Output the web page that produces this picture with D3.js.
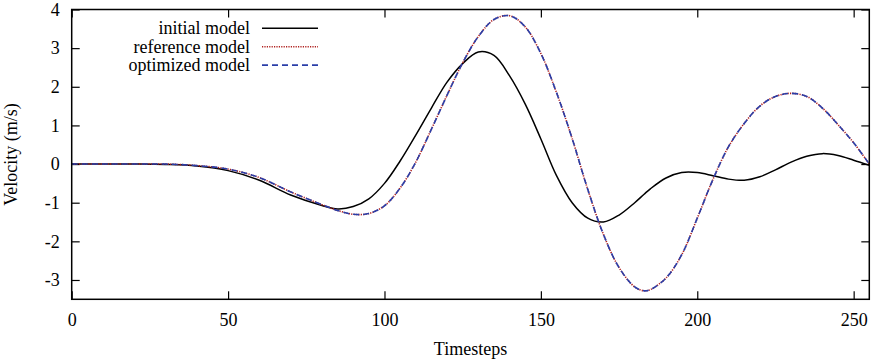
<!DOCTYPE html>
<html>
<head>
<meta charset="utf-8">
<script src="https://cdn.jsdelivr.net/npm/d3@7"></script>
<style>
  body { margin: 0; background: #fff; }
  text { font-family: "Liberation Serif", "Times New Roman", serif; font-size: 18px; fill: #000; }
</style>
</head>
<body>
<div id="chart"></div>
<script>
const timesteps = [0, 10, 20, 30, 40, 50, 60, 70, 80, 85, 90, 95, 100, 105, 110, 115, 120, 125, 130, 135,
  140, 145, 150, 155, 160, 165, 170, 175, 180, 183, 185, 190, 195, 200, 205, 210, 215, 220, 225, 230,
  235, 240, 245, 250, 255];

const initialModel = [0, 0, 0, -0.01, -0.05, -0.17, -0.42, -0.80, -1.07, -1.16, -1.10, -0.90, -0.50, 0.08, 0.75, 1.45, 2.12, 2.60, 2.90, 2.81,
  2.28, 1.55, 0.65, -0.30, -1.00, -1.40, -1.50, -1.32, -1.00, -0.78, -0.64, -0.36, -0.22, -0.22, -0.30, -0.39, -0.42, -0.33, -0.15, 0.05,
  0.20, 0.27, 0.22, 0.10, -0.03];

const referenceModel = [0, 0, 0, 0, -0.04, -0.13, -0.35, -0.72, -1.05, -1.20, -1.30, -1.28, -1.08, -0.62, 0.05, 0.90, 1.78, 2.62, 3.30, 3.74,
  3.84, 3.55, 2.86, 1.85, 0.66, -0.66, -1.82, -2.68, -3.18, -3.28, -3.25, -2.95, -2.35, -1.40, -0.40, 0.45, 1.05, 1.50, 1.75, 1.83,
  1.75, 1.45, 1.02, 0.55, 0];

const optimizedModel = [0, 0, 0, 0, -0.04, -0.13, -0.35, -0.72, -1.05, -1.20, -1.30, -1.28, -1.08, -0.62, 0.05, 0.90, 1.78, 2.62, 3.30, 3.74,
  3.84, 3.55, 2.86, 1.85, 0.66, -0.66, -1.82, -2.68, -3.18, -3.28, -3.25, -2.95, -2.35, -1.40, -0.40, 0.45, 1.05, 1.50, 1.75, 1.83,
  1.75, 1.45, 1.02, 0.55, 0];

const xTicks = [0, 50, 100, 150, 200, 250];
const yTicks = [-3, -2, -1, 0, 1, 2, 3, 4];
const seriesNames = ['initial model', 'reference model', 'optimized model'];

const width = 872, height = 361;
const margin = { top: 9.5, right: 2.7, bottom: 61.7, left: 71.7 };
const w = width - margin.left - margin.right;
const h = height - margin.top - margin.bottom;
const serif = '"Liberation Serif", "Times New Roman", serif';

const svg = d3.select('#chart').append('svg')
  .attr('width', width)
  .attr('height', height);

const xScale = d3.scaleLinear().domain([0, 255]).range([0, w]);
const yScale = d3.scaleLinear().domain([-3.5, 4]).range([h, 0]);

const g = svg.append('g')
  .attr('transform', `translate(${margin.left}, ${margin.top})`);

g.append('clipPath').attr('id', 'clip')
  .append('rect').attr('width', w).attr('height', h);

// ticks on all four sides, pointing inward
const tickLen = 8;
const axStyle = sel => {
  sel.attr('font-family', serif).attr('font-size', 18);
  sel.select('.domain').remove();
  sel.selectAll('line').attr('stroke', '#000').attr('stroke-width', 1.2);
};
const plain = d => String(d);

g.append('g').attr('transform', `translate(0, ${h})`)
  .call(d3.axisBottom(xScale).tickValues(xTicks).tickSize(-tickLen).tickPadding(14).tickFormat(plain))
  .call(axStyle);

g.append('g')
  .call(d3.axisTop(xScale).tickValues(xTicks).tickSize(-tickLen).tickFormat(''))
  .call(axStyle);

g.append('g')
  .call(d3.axisLeft(yScale).tickValues(yTicks).tickSize(-tickLen).tickPadding(12).tickFormat(plain))
  .call(axStyle);

g.append('g').attr('transform', `translate(${w}, 0)`)
  .call(d3.axisRight(yScale).tickValues(yTicks).tickSize(-tickLen).tickFormat(''))
  .call(axStyle);

// curves
const makeData = vals => timesteps.map((t, i) => ({ t: t, v: vals[i] }));
const valueLine = d3.line()
  .x(d => xScale(d.t))
  .y(d => yScale(d.v))
  .curve(d3.curveCatmullRom.alpha(0.5));

const styles = [
  { color: '#000000', dash: null, width: 1.5 },
  { color: '#b0211f', dash: '1.2,1.2', width: 1.6 },
  { color: '#2a3ea8', dash: '6,4', width: 1.6 }
];
const allSeries = [initialModel, referenceModel, optimizedModel];

const lines = g.append('g').attr('clip-path', 'url(#clip)');
allSeries.forEach((vals, i) => {
  lines.append('path')
    .datum(makeData(vals))
    .attr('fill', 'none')
    .attr('stroke', styles[i].color)
    .attr('stroke-width', styles[i].width)
    .attr('stroke-dasharray', styles[i].dash)
    .attr('d', valueLine);
});

// frame
g.append('rect')
  .attr('width', w).attr('height', h)
  .attr('fill', 'none').attr('stroke', '#000').attr('stroke-width', 1.5);

// legend
const legend = svg.append('g');
seriesNames.forEach((name, i) => {
  const y = 28.3 + i * 18.4;
  legend.append('text')
    .attr('x', 250).attr('y', y).attr('dy', '0.33em')
    .attr('text-anchor', 'end')
    .text(name);
  legend.append('line')
    .attr('x1', 262).attr('x2', 318).attr('y1', y).attr('y2', y)
    .attr('stroke', styles[i].color)
    .attr('stroke-width', styles[i].width)
    .attr('stroke-dasharray', styles[i].dash);
});

// axis titles
svg.append('text')
  .attr('x', margin.left + w / 2).attr('y', 355)
  .attr('text-anchor', 'middle')
  .text('Timesteps');

svg.append('text')
  .attr('transform', `translate(17, ${margin.top + h / 2}) rotate(-90)`)
  .attr('text-anchor', 'middle')
  .text('Velocity (m/s)');
</script>
</body>
</html>
